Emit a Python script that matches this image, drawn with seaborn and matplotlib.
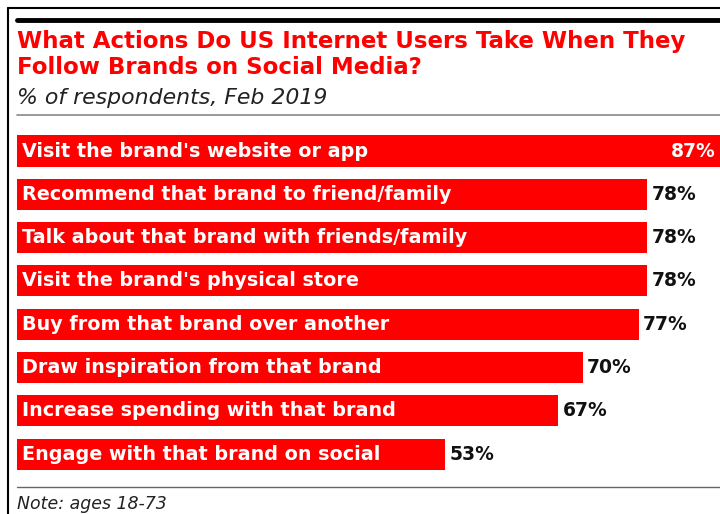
import matplotlib
matplotlib.use("Agg")
import matplotlib.pyplot as plt
from matplotlib.lines import Line2D
import seaborn as sns
import pandas as pd

actions = [
    "Visit the brand's website or app",
    "Recommend that brand to friend/family",
    "Talk about that brand with friends/family",
    "Visit the brand's physical store",
    "Buy from that brand over another",
    "Draw inspiration from that brand",
    "Increase spending with that brand",
    "Engage with that brand on social",
]
shares = [87, 78, 78, 78, 77, 70, 67, 53]

df = pd.DataFrame({"action": actions, "share": shares})

sns.set_theme(style="white")
plt.rcParams["font.family"] = ["DejaVu Sans"]

W, H = 720, 514
fig = plt.figure(figsize=(W / 100, H / 100), dpi=100)
fig.patch.set_facecolor("white")

ax = fig.add_axes([17 / W, 1 - 475.75 / H, (W - 17) / W, 346.4 / H])
sns.barplot(data=df, x="share", y="action", orient="h", color="#ff0000",
            saturation=1, width=0.72, ax=ax)
for p in ax.patches:
    p.set_edgecolor("none")
ax.set_xlim(0, 87)
ax.set_ylim(7.5, -0.5)
ax.set_axis_off()

for i, (name, v) in enumerate(zip(actions, shares)):
    ax.text(0.6, i, name, color="white", fontsize=13.8, fontweight="bold",
            va="center", ha="left")
    if v >= 85:
        ax.text(v - 0.6, i, f"{v}%", color="white", fontsize=13.5,
                fontweight="bold", va="center", ha="right")
    else:
        ax.text(v + 0.5, i, f"{v}%", color="#111111", fontsize=13.5,
                fontweight="bold", va="center", ha="left")

# frame and rules
fig.add_artist(Line2D([8 / W, 8 / W], [0, 1 - 8 / H], color="black", lw=1.5,
                      transform=fig.transFigure))
fig.add_artist(Line2D([8 / W, 1], [1 - 8 / H, 1 - 8 / H], color="black", lw=1.5,
                      transform=fig.transFigure))
fig.add_artist(Line2D([17 / W, 1], [1 - 19.5 / H, 1 - 19.5 / H], color="black",
                      lw=3.5, transform=fig.transFigure))
fig.add_artist(Line2D([17 / W, 1], [1 - 115 / H, 1 - 115 / H], color="#888888",
                      lw=1.2, transform=fig.transFigure))
fig.add_artist(Line2D([17 / W, 1], [1 - 487 / H, 1 - 487 / H], color="#666666",
                      lw=1.0, transform=fig.transFigure))

fig.text(17 / W, 1 - 48 / H, "What Actions Do US Internet Users Take When They",
         color="#ff0000", fontsize=16.5, fontweight="bold", va="baseline", ha="left")
fig.text(17 / W, 1 - 74 / H, "Follow Brands on Social Media?",
         color="#ff0000", fontsize=16.5, fontweight="bold", va="baseline", ha="left")
fig.text(17 / W, 1 - 104 / H, "% of respondents, Feb 2019", color="#222222",
         fontsize=15.8, fontstyle="italic", va="baseline", ha="left")
fig.text(17 / W, 1 - 509 / H, "Note: ages 18-73", color="#222222",
         fontsize=12.5, fontstyle="italic", va="baseline", ha="left")

fig.savefig("out.png", dpi=100)
